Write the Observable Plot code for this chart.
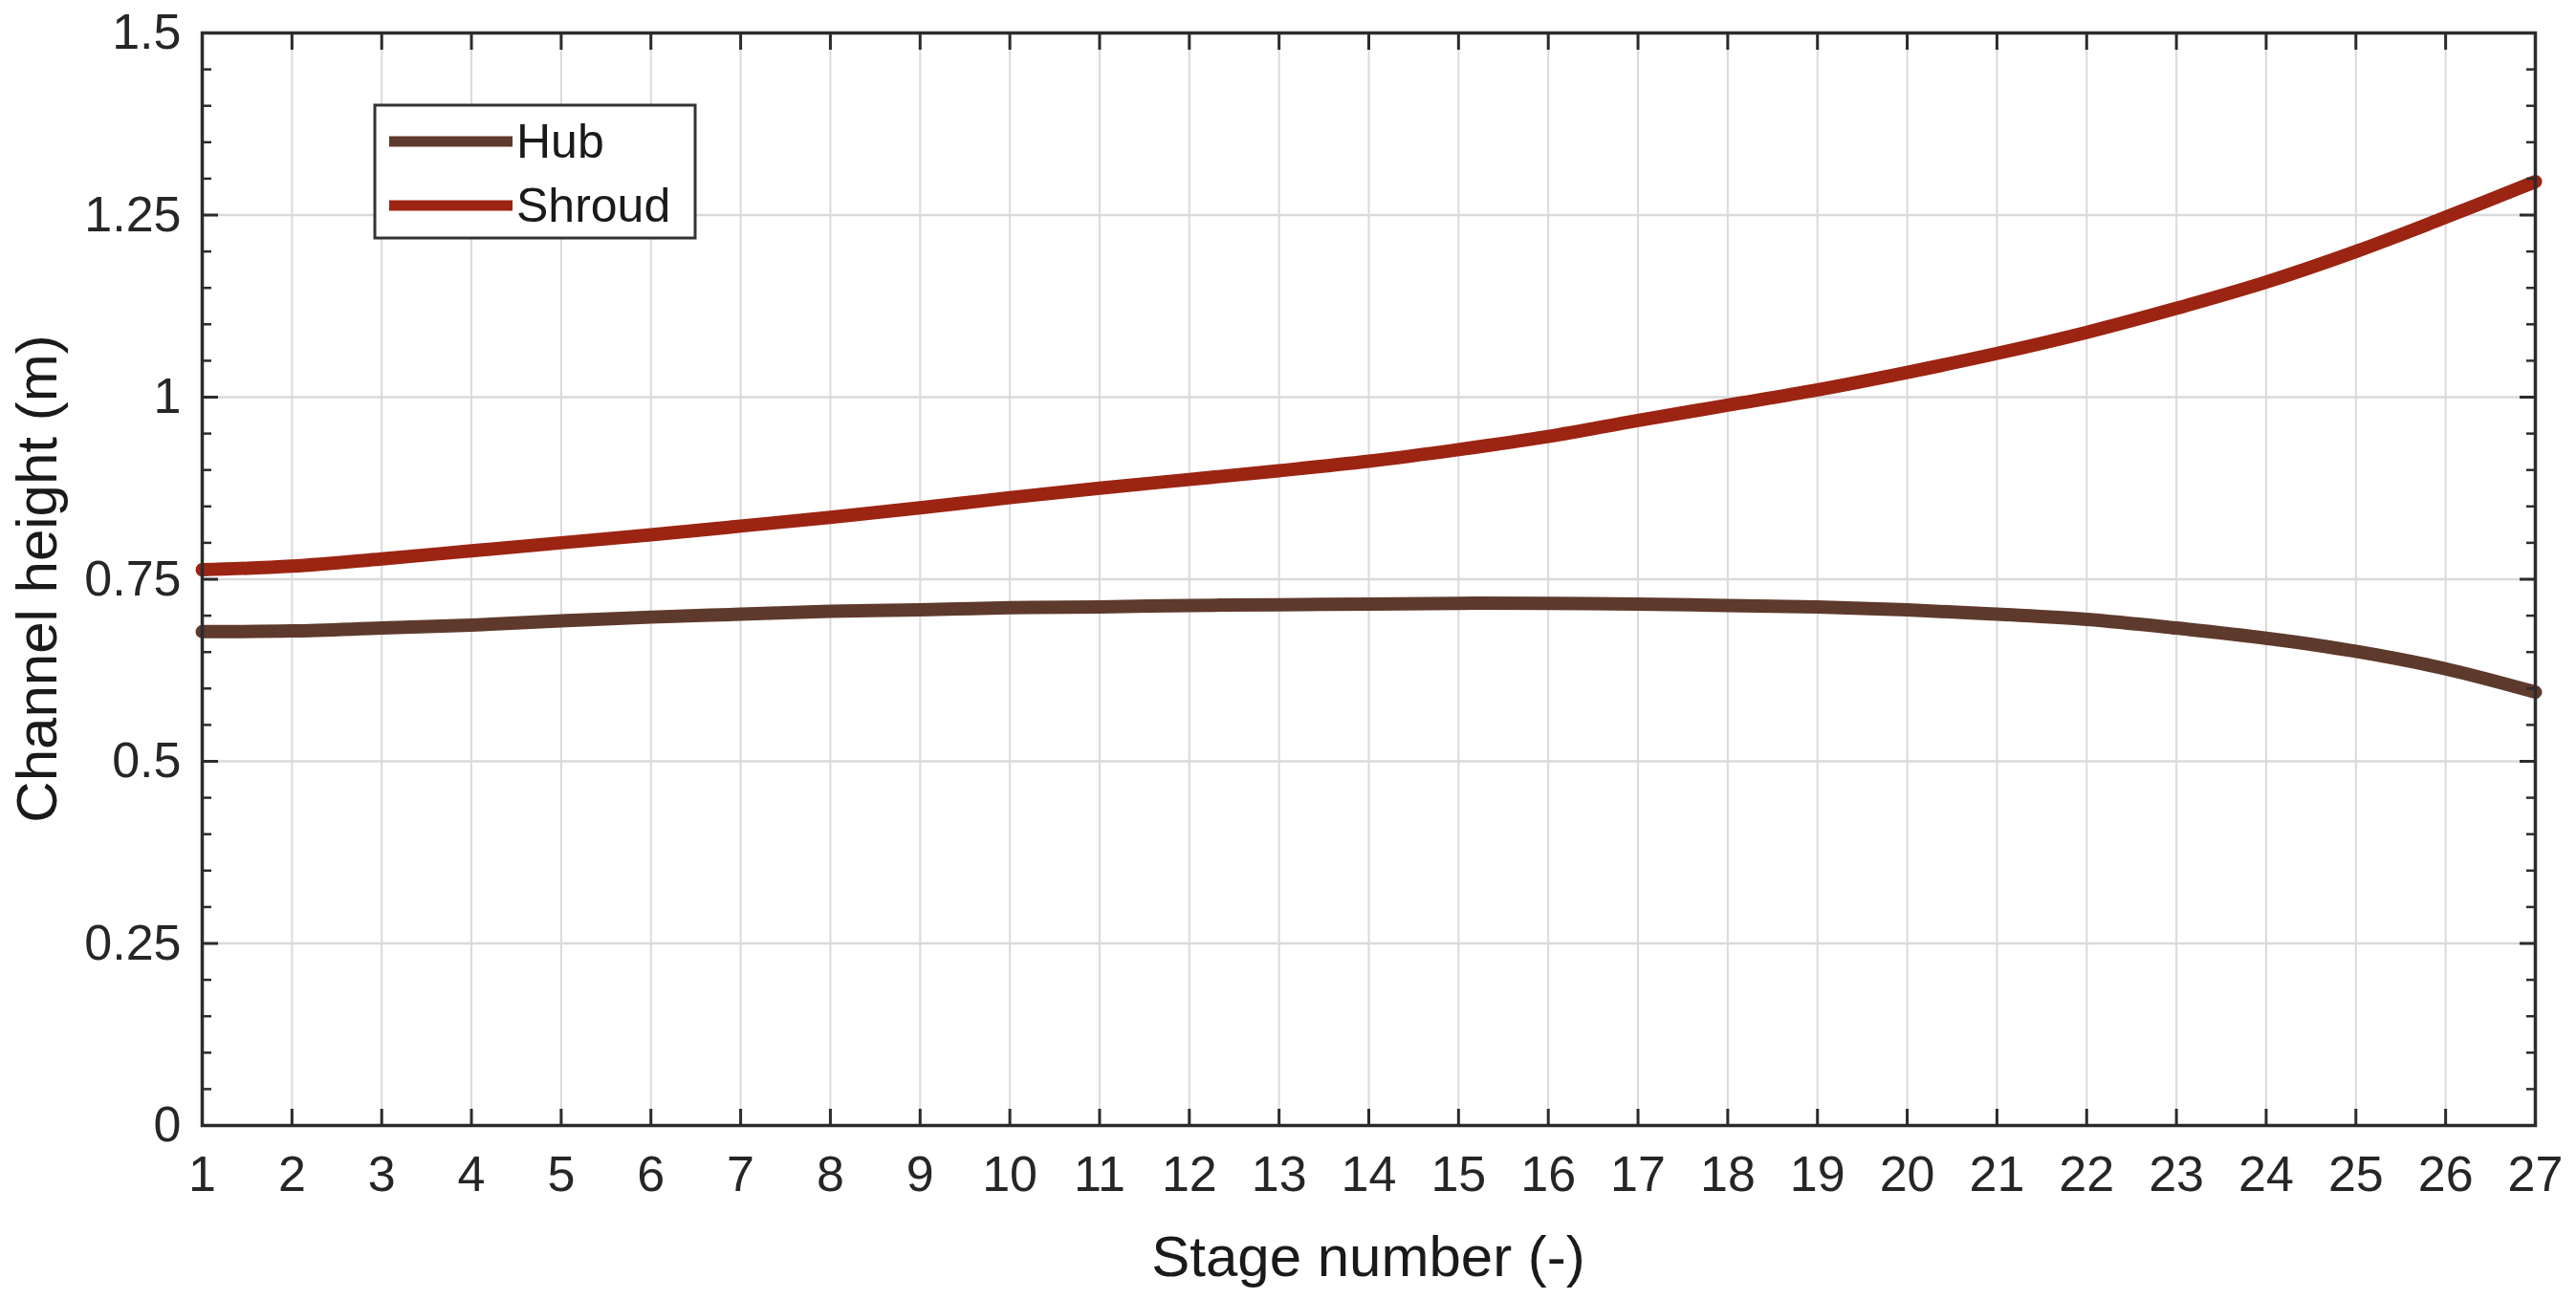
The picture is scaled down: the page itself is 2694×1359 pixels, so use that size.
<!DOCTYPE html>
<html>
<head>
<meta charset="utf-8">
<script src="https://cdn.jsdelivr.net/npm/d3@7"></script>
<script src="https://cdn.jsdelivr.net/npm/@observablehq/plot@0.6"></script>
<style>
  html, body { margin: 0; padding: 0; background: #fff; }
  #chart { width: 2694px; height: 1359px; }
</style>
</head>
<body>
<div id="chart"></div>
<script>
// ---- data ----
const stages = [1,2,3,4,5,6,7,8,9,10,11,12,13,14,15,16,17,18,19,20,21,22,23,24,25,26,27];
const hub    = [0.678,0.679,0.683,0.687,0.693,0.698,0.702,0.706,0.708,0.711,0.712,0.714,0.715,0.716,0.717,0.717,0.716,0.714,0.712,0.708,0.702,0.695,0.683,0.669,0.651,0.627,0.595];
const shroud = [0.763,0.768,0.778,0.789,0.800,0.811,0.823,0.835,0.848,0.862,0.875,0.887,0.899,0.912,0.928,0.946,0.968,0.989,1.010,1.034,1.060,1.089,1.122,1.158,1.200,1.247,1.296];
const seriesNames = ["Hub", "Shroud"];
const seriesColors = ["#5e3a2c", "#9c2412"];
const xTicks = [1,2,3,4,5,6,7,8,9,10,11,12,13,14,15,16,17,18,19,20,21,22,23,24,25,26,27];
const yTicks = [0, 0.25, 0.5, 0.75, 1, 1.25, 1.5];
const yMinorTicks = [0.05,0.1,0.15,0.2,0.3,0.35,0.4,0.45,0.55,0.6,0.65,0.7,0.8,0.85,0.9,0.95,1.05,1.1,1.15,1.2,1.3,1.35,1.4,1.45];
const xLabel = "Stage number (-)";
const yLabel = "Channel height (m)";

const rows = [];
stages.forEach((s, i) => {
  rows.push({stage: s, value: hub[i], series: seriesNames[0]});
  rows.push({stage: s, value: shroud[i], series: seriesNames[1]});
});

const W = 2694, H = 1359;
const mL = 211, mR = 43, mT = 34, mB = 182;
const axisColor = "#2b2b2b";
const empty = () => "";

const plot = Plot.plot({
  width: W, height: H,
  marginLeft: mL, marginRight: mR, marginTop: mT, marginBottom: mB,
  style: {fontFamily: "'Liberation Sans', Arial, Helvetica, sans-serif", fontSize: "52px", color: "#262626", background: "#fff"},
  x: {domain: [1, 27], label: null},
  y: {domain: [0, 1.5], label: null},
  color: {domain: seriesNames, range: seriesColors},
  marks: [
    Plot.gridX(xTicks, {stroke: "#dadada", strokeOpacity: 1, strokeWidth: 2}),
    Plot.gridY(yTicks, {stroke: "#dadada", strokeOpacity: 1, strokeWidth: 2.5}),
    Plot.line(rows, {x: "stage", y: "value", z: "series", stroke: "series", strokeWidth: 14, curve: "catmull-rom"}),
    Plot.frame({stroke: axisColor, strokeWidth: 3.5}),
    Plot.axisX(xTicks, {anchor: "bottom", tickSize: -17, tickPadding: 49, stroke: axisColor, strokeWidth: 3, tickFormat: d => String(d), label: null}),
    Plot.axisX(xTicks, {anchor: "top", tickSize: -17, stroke: axisColor, strokeWidth: 3, tickFormat: empty, label: null}),
    Plot.axisY(yTicks, {anchor: "left", tickSize: -17, tickPadding: 39, stroke: axisColor, strokeWidth: 3, tickFormat: d => String(d), label: null}),
    Plot.axisY(yTicks, {anchor: "right", tickSize: -17, stroke: axisColor, strokeWidth: 3, tickFormat: empty, label: null}),
    Plot.axisY(yMinorTicks, {anchor: "left", tickSize: -10, stroke: axisColor, strokeWidth: 2.5, tickFormat: empty, label: null}),
    Plot.axisY(yMinorTicks, {anchor: "right", tickSize: -10, stroke: axisColor, strokeWidth: 2.5, tickFormat: empty, label: null})
  ]
});

const svg = d3.select(plot);
const font = "'Liberation Sans', Arial, Helvetica, sans-serif";

// axis labels
svg.append("text")
  .attr("x", mL + (W - mL - mR) / 2).attr("y", 1314)
  .attr("text-anchor", "middle").attr("dominant-baseline", "central")
  .attr("font-family", font).attr("font-size", 60).attr("fill", "#1a1a1a")
  .text(xLabel);
svg.append("text")
  .attr("transform", `translate(38,${mT + (H - mT - mB) / 2}) rotate(-90)`)
  .attr("text-anchor", "middle").attr("dominant-baseline", "central")
  .attr("font-family", font).attr("font-size", 60).attr("fill", "#1a1a1a")
  .text(yLabel);

// legend
const lg = svg.append("g");
lg.append("rect").attr("x", 392).attr("y", 110).attr("width", 335).attr("height", 139)
  .attr("fill", "#fff").attr("stroke", "#333").attr("stroke-width", 3);
seriesNames.forEach((name, i) => {
  const yy = 148 + i * 67;
  lg.append("line").attr("x1", 407).attr("x2", 536).attr("y1", yy).attr("y2", yy)
    .attr("stroke", seriesColors[i]).attr("stroke-width", 11);
  lg.append("text").attr("x", 540).attr("y", yy).attr("dominant-baseline", "central")
    .attr("text-anchor", "start")
    .attr("font-family", font).attr("font-size", 50).attr("fill", "#1a1a1a").text(name);
});

document.getElementById("chart").appendChild(plot);
</script>
</body>
</html>
